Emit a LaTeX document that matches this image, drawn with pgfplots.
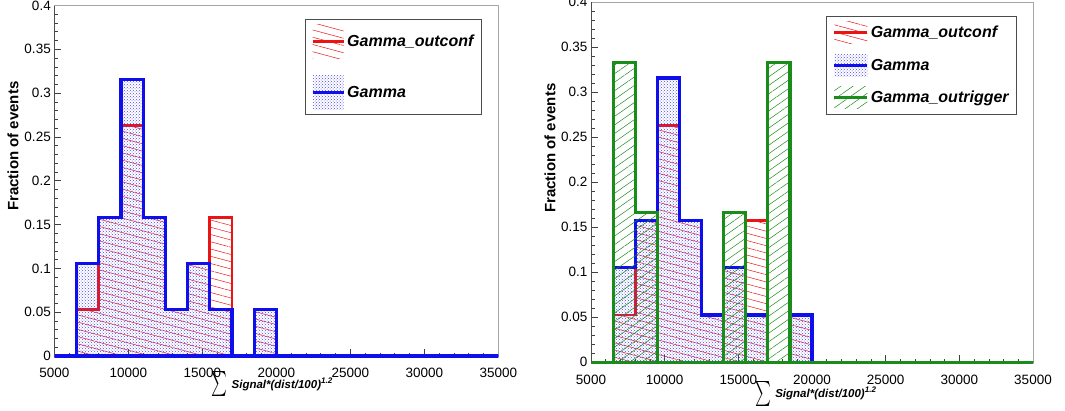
\documentclass[border=0pt]{standalone}
\usepackage{pgfplots}
\pgfplotsset{compat=1.18}
\usetikzlibrary{patterns,patterns.meta}
\usepackage{fontspec}
\setmainfont{Liberation Sans}

\definecolor{rootred}{RGB}{235,20,20}
\definecolor{rootblue}{RGB}{15,15,235}
\definecolor{rootgreen}{RGB}{25,140,25}

\pgfplotstableread{
x y
5000 0
6500 0.05263
8000 0.15789
9500 0.26316
11000 0.15789
12500 0.05263
14000 0.10526
15500 0.15789
17000 0
18500 0.05263
20000 0
35000 0
}\outconf
\pgfplotstableread{
x y
5000 0
6500 0.10526
8000 0.15789
9500 0.31579
11000 0.15789
12500 0.05263
14000 0.10526
15500 0.05263
17000 0
18500 0.05263
20000 0
35000 0
}\gammaall
\pgfplotstableread{
x y
5000 0
6500 0.33333
8000 0.16667
9500 0
14000 0.16667
15500 0
17000 0.33333
18500 0
35000 0
}\outtrigger

\pgfplotsset{
  rootaxis/.style={
    scale only axis, anchor=south west,
    xmin=5000, xmax=35000, ymin=0, ymax=0.4,
    xtick={5000,10000,15000,20000,25000,30000,35000},
    xticklabels={5000,10000,15000,20000,25000,30000,35000},
    scaled x ticks=false, scaled y ticks=false,
    ytick={0,0.05,0.1,0.15,0.2,0.25,0.3,0.35,0.4},
    yticklabels={0,0.05,0.1,0.15,0.2,0.25,0.3,0.35,0.4},
    minor x tick num=4, minor y tick num=4,
    tick align=inside, tick pos=left,
    major tick length=7pt, minor tick length=3.5pt,
    every tick/.style={black!75, line width=0.6pt},
    axis line style={black!35, line width=0.8pt},
    clip=false,
    ticklabel style={font=\fontsize{13.5}{16}\selectfont},
    xticklabel style={yshift=-9pt},
    ylabel={Fraction of events},
    ylabel style={anchor=east, font=\fontsize{15}{18}\selectfont\bfseries},
    xlabel={\raisebox{-2.5pt}{\scalebox{1.5}[2.5]{$\sum$}}\hspace{4pt}{\fontsize{11.5}{14}\selectfont\bfseries\itshape Signal*(dist/100)\textsuperscript{1.2}}},
    xlabel style={anchor=base},
    legend cell align=left,
    extra description/.code={\draw[black!70, line width=0.9pt] (rel axis cs:0,0) -- (rel axis cs:0,1);},
  },
  redhist/.style={const plot, draw=rootred, line width=2.8pt, line join=miter,
    pattern={Lines[angle=-15,distance=7pt,line width=0.5pt]}, pattern color=rootred},
  bluehist/.style={const plot, draw=rootblue, line width=3.2pt, line join=miter,
    pattern=crosshatch dots, pattern color=rootblue!75},
  greenhist/.style={const plot, draw=rootgreen, line width=3.2pt, line join=miter,
    pattern={Lines[angle=35,distance=7pt,line width=0.5pt]}, pattern color=rootgreen},
}

\begin{document}
\begin{tikzpicture}
\path[use as bounding box] (0pt,0pt) rectangle (1065pt,410pt);

% left panel
\begin{axis}[rootaxis, at={(54.3pt,54pt)}, width=444pt, height=350.5pt,
  ylabel style={at={(rel axis cs:-0.093,0.793)}},
  xlabel style={at={(rel axis cs:0.491,0)}, yshift=-32pt},
  legend style={at={(rel axis cs:0.963,0.962)}, anchor=north east,
    draw=black!70, line width=0.8pt, fill=white,
    font=\fontsize{16}{19}\selectfont\bfseries\itshape,
    row sep=17pt, inner xsep=6pt, inner ysep=5pt}]
\addplot[redhist,
  legend image code/.code={
    \path[draw=none, pattern={Lines[angle=-15,distance=7pt,line width=0.5pt]}, pattern color=rootred] (0pt,-17pt) rectangle (31pt,17pt);
    \draw[draw=rootred, pattern=none, line width=3pt] (0pt,0pt) -- (31pt,0pt);}]
  table[x=x,y=y] {\outconf} \closedcycle;
\addlegendentry{Gamma\_outconf}
\addplot[bluehist,
  legend image code/.code={
    \path[draw=none, pattern=crosshatch dots, pattern color=rootblue!75] (0pt,-17pt) rectangle (31pt,17pt);
    \draw[draw=rootblue, line width=3pt] (0pt,0pt) -- (31pt,0pt);}]
  table[x=x,y=y] {\gammaall} \closedcycle;
\addlegendentry{Gamma}
\end{axis}

% right panel
\begin{axis}[rootaxis, at={(591pt,47.7pt)}, width=442pt, height=360pt,
  ylabel style={at={(rel axis cs:-0.093,0.784)}},
  xlabel style={at={(rel axis cs:0.509,0)}, yshift=-35pt},
  legend style={at={(rel axis cs:0.964,0.962)}, anchor=north east,
    draw=black!70, line width=0.8pt, fill=white,
    font=\fontsize{16}{19}\selectfont\bfseries\itshape,
    row sep=10.5pt, inner xsep=6pt, inner ysep=5.5pt}]
\addplot[redhist,
  legend image code/.code={
    \path[draw=none, pattern={Lines[angle=-15,distance=7pt,line width=0.5pt]}, pattern color=rootred] (0pt,-11pt) rectangle (33pt,11pt);
    \draw[draw=rootred, line width=3pt] (0pt,0pt) -- (33pt,0pt);}]
  table[x=x,y=y] {\outconf} \closedcycle;
\addlegendentry{Gamma\_outconf}
\addplot[bluehist,
  legend image code/.code={
    \path[draw=none, pattern=crosshatch dots, pattern color=rootblue!75] (0pt,-11pt) rectangle (33pt,11pt);
    \draw[draw=rootblue, line width=3pt] (0pt,0pt) -- (33pt,0pt);}]
  table[x=x,y=y] {\gammaall} \closedcycle;
\addlegendentry{Gamma}
\addplot[greenhist,
  legend image code/.code={
    \path[draw=none, pattern={Lines[angle=35,distance=7pt,line width=0.5pt]}, pattern color=rootgreen] (0pt,-11pt) rectangle (33pt,11pt);
    \draw[draw=rootgreen, line width=3pt] (0pt,0pt) -- (33pt,0pt);}]
  table[x=x,y=y] {\outtrigger} \closedcycle;
\addlegendentry{Gamma\_outrigger}
\end{axis}
\end{tikzpicture}
\end{document}
